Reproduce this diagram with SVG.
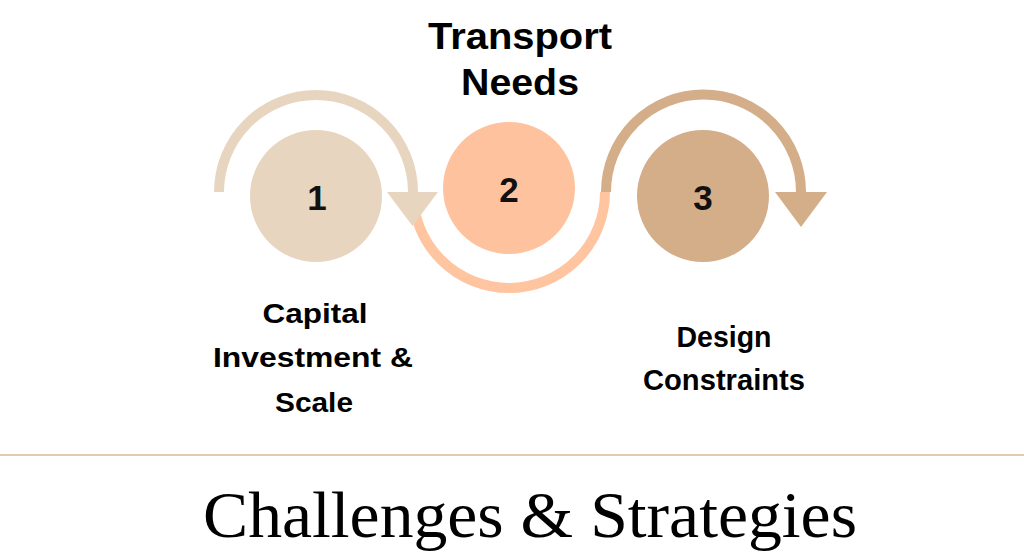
<svg xmlns="http://www.w3.org/2000/svg" width="1024" height="559" viewBox="0 0 1024 559">
  <style>
    .lbl { font-family: "Liberation Sans", Arial, sans-serif; font-weight: bold; fill: #000; text-anchor: middle; }
    .num { font-family: "Liberation Sans", Arial, sans-serif; font-weight: bold; fill: #111; text-anchor: middle; font-size: 35px; }
    .title { font-family: "Liberation Serif", "Times New Roman", serif; fill: #000; font-size: 66px; }
    .arc { fill: none; stroke-width: 10; stroke-linecap: butt; }
  </style>
  <rect width="1024" height="559" fill="#ffffff"/>

  <g id="connectors">
    <path class="arc" d="M413,192 A96,96 0 0 0 605,192" stroke="#FFC4A0"/>
    <path class="arc" d="M219,192 A97,97 0 0 1 413,192" stroke="#E8D5C0"/>
    <polygon points="387,192 438,192 412.5,226" fill="#E8D5C0"/>
    <path class="arc" d="M606,192 A97,97 0 0 1 801,192" stroke="#D4AD89"/>
    <polygon points="775,192 827,192 801,227" fill="#D4AD89"/>
  </g>

  <g id="node1">
    <circle cx="316" cy="196" r="66" fill="#E8D5C0"/>
    <text class="num" x="317" y="210">1</text>
    <text class="lbl" x="315" y="323" font-size="28" textLength="105" lengthAdjust="spacingAndGlyphs">Capital</text>
    <text class="lbl" x="313" y="367" font-size="28" textLength="200" lengthAdjust="spacingAndGlyphs">Investment &amp;</text>
    <text class="lbl" x="314" y="412" font-size="28" textLength="78" lengthAdjust="spacingAndGlyphs">Scale</text>
  </g>

  <g id="node2">
    <circle cx="509" cy="188" r="66" fill="#FFC29E"/>
    <text class="num" x="509" y="202">2</text>
    <text class="lbl" x="520" y="49" font-size="36" textLength="184" lengthAdjust="spacingAndGlyphs">Transport</text>
    <text class="lbl" x="520" y="95" font-size="36" textLength="118" lengthAdjust="spacingAndGlyphs">Needs</text>
  </g>

  <g id="node3">
    <circle cx="703" cy="196" r="66" fill="#D4AD89"/>
    <text class="num" x="703" y="210">3</text>
    <text class="lbl" x="724" y="347" font-size="29" textLength="95" lengthAdjust="spacingAndGlyphs">Design</text>
    <text class="lbl" x="724" y="390" font-size="29" textLength="162" lengthAdjust="spacingAndGlyphs">Constraints</text>
  </g>

  <line x1="0" y1="455" x2="1024" y2="455" stroke="#DDB898" stroke-width="1.5"/>
  <text class="title" x="203" y="537" textLength="654" lengthAdjust="spacingAndGlyphs">Challenges &amp; Strategies</text>
</svg>
